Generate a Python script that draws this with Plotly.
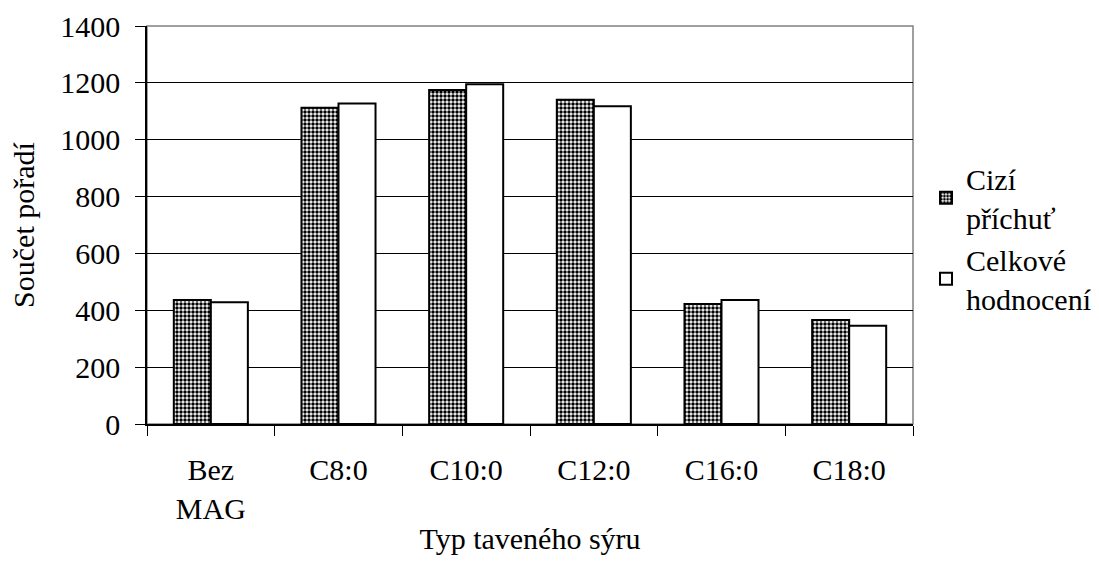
import plotly.graph_objects as go

categories = ["Bez<br>MAG", "C8:0", "C10:0", "C12:0", "C16:0", "C18:0"]
cizi_prichut = [436, 1112, 1175, 1141, 422, 366]
celkove_hodnoceni = [428, 1127, 1195, 1118, 436, 346]
y_ticks = [0, 200, 400, 600, 800, 1000, 1200, 1400]

FONT = "Liberation Serif"
SIZE = 30

fig = go.Figure()
fig.add_trace(go.Bar(
    x=categories, y=cizi_prichut, name="Cizí<br>příchuť",
    marker=dict(color="white", line=dict(color="black", width=2),
                pattern=dict(shape=".", fgcolor="black", bgcolor="white",
                             size=4, solidity=0.6, fillmode="replace")),
))
fig.add_trace(go.Bar(
    x=categories, y=celkove_hodnoceni, name="Celkové<br>hodnocení",
    marker=dict(color="white", line=dict(color="black", width=2)),
))

fig.update_layout(
    width=1099, height=561,
    margin=dict(l=147, r=186, t=26, b=137, autoexpand=False),
    paper_bgcolor="white", plot_bgcolor="white",
    font=dict(family=FONT, size=SIZE, color="black"),
    barmode="group", bargap=0.42, bargroupgap=0,
    legend=dict(x=1.017, y=0.467, xanchor="left", yanchor="middle",
                font=dict(family=FONT, size=SIZE), tracegroupgap=0,
                itemwidth=30),
    shapes=[dict(type="rect", xref="paper", yref="paper", x0=0, x1=1, y0=0, y1=1,
                 line=dict(color="#808080", width=1.5), layer="below")],
)
fig.update_yaxes(
    range=[0, 1400], tickvals=y_ticks, showgrid=True, gridcolor="black", gridwidth=1,
    showline=True, linecolor="black", linewidth=1.5, ticks="outside", ticklen=10,
    tickcolor="black", ticklabelstandoff=9,
    tickfont=dict(family=FONT, size=SIZE),
    title=dict(text="Součet pořadí", font=dict(family=FONT, size=SIZE), standoff=17),
    zeroline=False,
)
fig.update_xaxes(
    showline=True, linecolor="black", linewidth=1.5, ticks="outside", ticklen=10,
    tickson="boundaries", tickcolor="black", ticklabelstandoff=18,
    tickfont=dict(family=FONT, size=SIZE),
    title=dict(text="Typ taveného sýru", font=dict(family=FONT, size=SIZE), standoff=4),
)

fig.write_html("out.html")
